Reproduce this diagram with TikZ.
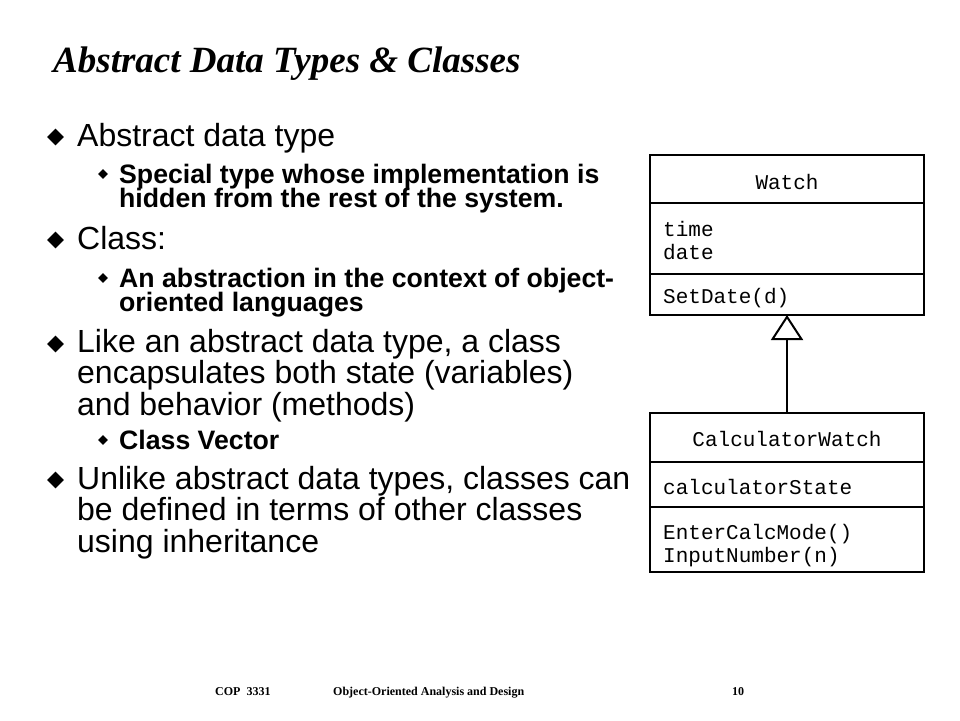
\documentclass[tikz,border=0pt]{standalone}
\usepackage{fontspec}
\setmainfont{Liberation Sans}
\setmonofont{Liberation Mono}
\newfontfamily\serifface{Liberation Serif}
\usetikzlibrary{positioning, shapes.geometric, arrows.meta}
\newcommand{\tightlines}{\lineskiplimit=-50pt\relax}

\begin{document}
\begin{tikzpicture}[
    x=1pt, y=-1pt,
    headline/.style={
      anchor=base west, inner sep=0pt, font=\serifface\bfseries\itshape\fontsize{37}{40}\selectfont
    },
    mainpoint/.style={
      anchor=base west, inner sep=0pt, align=left,
      font=\fontsize{32}{31.3}\selectfont\tightlines
    },
    subpoint/.style={
      anchor=base west, inner sep=0pt, align=left,
      font=\bfseries\fontsize{26.67}{24}\selectfont\tightlines
    },
    bigdot/.style={
      diamond, fill=black, inner sep=0pt, minimum width=17pt, minimum height=17pt
    },
    smalldot/.style={
      diamond, fill=black, inner sep=0pt, minimum width=10pt, minimum height=10pt
    },
    compart/.style={
      draw, line width=2pt, outer sep=0pt, inner sep=0pt, minimum width=274pt
    },
    classname/.style={
      anchor=base, inner sep=0pt, font=\ttfamily\fontsize{21}{22}\selectfont
    },
    member/.style={
      anchor=base west, inner sep=0pt, align=left,
      font=\ttfamily\fontsize{21}{22.5}\selectfont\tightlines
    },
    footer/.style={
      anchor=base west, inner sep=0pt, font=\serifface\bfseries\fontsize{12}{14}\selectfont
    },
  ]
    \useasboundingbox (0,0) rectangle (960,720);

    % Title
    \node [headline] (title) at (53,72) {Abstract Data Types \& Classes};

    % Bullets (multi-line texts sit on the baseline of their last line)
    \node [bigdot] (dot1) at (55.5,137) {};
    \node [mainpoint] (adt) at (77,146) {Abstract data type};
    \node [smalldot] (dot1a) at (103,174) {};
    \node [subpoint] (adtsub) at (119,207) {Special type whose implementation is\\hidden from the rest of the system.};

    \node [bigdot] (dot2) at (55.5,240) {};
    \node [mainpoint] (cls) at (77,249) {Class:};
    \node [smalldot] (dot2a) at (103,278) {};
    \node [subpoint] (clssub) at (119,311) {An abstraction in the context of object-\\oriented languages};

    \node [bigdot] (dot3) at (55.5,344) {};
    \node [mainpoint] (like) at (77,415) {Like an abstract data type, a class\\encapsulates both state (variables)\\and behavior (methods)};
    \node [smalldot] (dot3a) at (103,440) {};
    \node [subpoint] (likesub) at (119,449) {Class Vector};

    \node [bigdot] (dot4) at (55.5,480) {};
    \node [mainpoint] (unlike) at (77,552) {Unlike abstract data types, classes can\\be defined in terms of other classes\\using inheritance};

    % Class Watch
    \node [compart, minimum height=48pt, anchor=north west] (watchname) at (650,155) {};
    \node [compart, minimum height=71pt, below=0pt of watchname] (watchattr) {};
    \node [compart, minimum height=41pt, below=0pt of watchattr] (watchops) {};
    \node [classname] (watchlbl) at (787,189) {Watch};
    \node [member] (watchvars) at (663,259) {time\\date};
    \node [member] (watchfns) at (663,303) {SetDate(d)};

    % Class CalculatorWatch
    \node [compart, minimum height=49pt, anchor=north west] (calcname) at (650,413) {};
    \node [compart, minimum height=45pt, below=0pt of calcname] (calcattr) {};
    \node [compart, minimum height=65pt, below=0pt of calcattr] (calcops) {};
    \node [classname] (calclbl) at (787,446) {CalculatorWatch};
    \node [member] (calcvars) at (663,494) {calculatorState};
    \node [member] (calcfns) at (663,562) {EnterCalcMode()\\InputNumber(n)};

    % Inheritance
    \draw [line width=2pt, -{Triangle[open, length=25pt, width=32pt]}] (calcname.north) -- (watchops.south);

    % Footer
    \node [footer] (course) at (215,695) {COP\ \ 3331};
    \node [footer] (subject) at (333,695) {Object-Oriented Analysis and Design};
    \node [footer] (page) at (732,695) {10};
\end{tikzpicture}
\end{document}
